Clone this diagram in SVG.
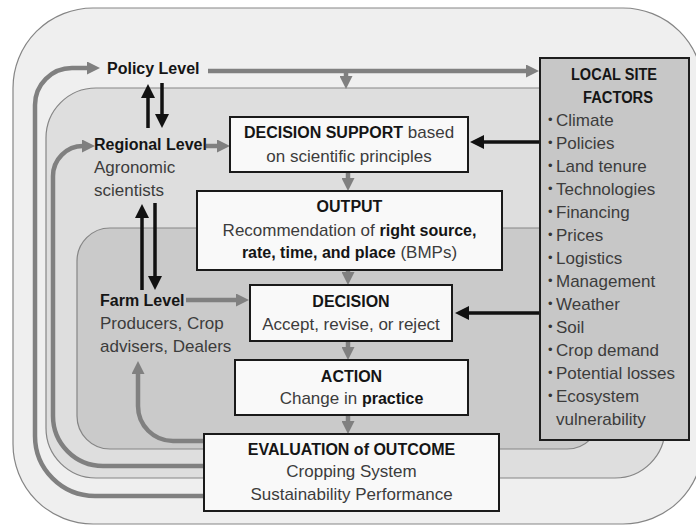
<svg xmlns="http://www.w3.org/2000/svg" width="696" height="527" viewBox="0 0 696 527">
<style>
text{font-family:"Liberation Sans",Arial,sans-serif;}
.lvl{stroke:#858585;stroke-width:1.2;}
.box{fill:#f9f9f9;stroke:#1a1a1a;stroke-width:2;}
.h{font-weight:bold;font-size:16px;fill:#151515;}
.r{font-size:17px;fill:#3c3c3c;}
.bd{font-weight:bold;font-size:16px;fill:#151515;}
.g{fill:none;stroke:#808080;stroke-width:4.5;}
.k{fill:none;stroke:#111;stroke-width:3.5;}
.c{text-anchor:middle;}
.bul{font-size:13px;fill:#333;}
</style>
<defs>
<marker id="ga" markerUnits="userSpaceOnUse" markerWidth="13" markerHeight="13" viewBox="0 0 13 13" refX="1" refY="6.5" orient="auto"><path d="M0,0 L13,6.5 L0,13 z" fill="#808080"/></marker>
<marker id="ka" markerUnits="userSpaceOnUse" markerWidth="14" markerHeight="14" viewBox="0 0 14 14" refX="1" refY="7" orient="auto"><path d="M0,0 L14,7 L0,14 z" fill="#111"/></marker>
</defs>
<rect width="696" height="527" fill="#ffffff"/>
<g id="levels">
<rect id="policy-area" class="lvl" x="13" y="8" width="690" height="516" rx="80" fill="#efefef"/>
<rect id="regional-area" class="lvl" x="46" y="88" width="619" height="390" rx="50" fill="#dedede"/>
<rect id="farm-area" class="lvl" x="77" y="228" width="523" height="221" rx="33" fill="#cacaca"/>
</g>
<g id="connectors">
<path class="g" d="M208,71 H527" marker-end="url(#ga)"/>
<path class="g" d="M346,71 V77" marker-end="url(#ga)"/>
<path class="g" d="M206,146 H218" marker-end="url(#ga)"/>
<path class="g" d="M186,300 H237" marker-end="url(#ga)"/>
<path class="g" d="M348,172 V179" marker-end="url(#ga)"/>
<path class="g" d="M348,270 V273" marker-end="url(#ga)"/>
<path class="g" d="M348,341 V348" marker-end="url(#ga)"/>
<path class="g" d="M348,415 V422" marker-end="url(#ga)"/>
<path class="g" d="M205,496 H95 A60,60 0 0 1 35,436 V105 A37,37 0 0 1 72,68 H88" marker-end="url(#ga)"/>
<path class="g" d="M205,466 H103 A50,50 0 0 1 53,416 V176 A30,30 0 0 1 83,146" stroke="#6e6e6e" marker-end="url(#ga)"/>
<path class="g" d="M205,441 H173 A35,35 0 0 1 138,406 V373" marker-end="url(#ga)"/>
<path class="k" d="M148,128 V97" marker-end="url(#ka)"/>
<path class="k" d="M162,83 V115" marker-end="url(#ka)"/>
<path class="k" d="M142,290 V217" marker-end="url(#ka)"/>
<path class="k" d="M155,203 V277" marker-end="url(#ka)"/>
<path class="k" d="M540,142 H483" marker-end="url(#ka)"/>
<path class="k" d="M540,313 H468" marker-end="url(#ka)"/>
</g>
<g id="policy-level">
<text class="h" x="107" y="74">Policy Level</text>
</g>
<g id="regional-level">
<text class="h" x="94" y="150">Regional Level</text>
<text class="r" x="94" y="173">Agronomic</text>
<text class="r" x="94" y="196">scientists</text>
</g>
<g id="farm-level">
<text class="h" x="100" y="306">Farm Level</text>
<text class="r" x="100" y="329">Producers, Crop</text>
<text class="r" x="100" y="352">advisers, Dealers</text>
</g>
<g id="decision-support">
<rect class="box" x="230" y="117" width="238" height="55"/>
<text class="c" x="349" y="138"><tspan class="bd">DECISION SUPPORT</tspan><tspan class="r"> based</tspan></text>
<text class="r c" x="349" y="162">on scientific principles</text>
</g>
<g id="output">
<rect class="box" x="197" y="191" width="305" height="79"/>
<text class="h c" x="349.5" y="212">OUTPUT</text>
<text class="c" x="349.5" y="236"><tspan class="r">Recommendation of </tspan><tspan class="bd">right source,</tspan></text>
<text class="c" x="349.5" y="258"><tspan class="bd">rate, time, and place</tspan><tspan class="r"> (BMPs)</tspan></text>
</g>
<g id="decision">
<rect class="box" x="250" y="285" width="202" height="56"/>
<text class="h c" x="351" y="307">DECISION</text>
<text class="r c" x="351" y="330">Accept, revise, or reject</text>
</g>
<g id="action">
<rect class="box" x="235" y="360" width="233" height="55"/>
<text class="h c" x="351.5" y="382">ACTION</text>
<text class="c" x="351.5" y="404"><tspan class="r">Change in </tspan><tspan class="bd">practice</tspan></text>
</g>
<g id="evaluation">
<rect class="box" x="204" y="434" width="295" height="77"/>
<text class="h c" x="351.5" y="455">EVALUATION of OUTCOME</text>
<text class="r c" x="351.5" y="477">Cropping System</text>
<text class="r c" x="351.5" y="500">Sustainability Performance</text>
</g>
<g id="local-site-factors">
<rect x="540" y="58" width="149" height="382" fill="#c7c7c7" stroke="#1e1e1e" stroke-width="2"/>
<text class="h c" x="614" y="80" textLength="86" lengthAdjust="spacingAndGlyphs">LOCAL SITE</text>
<text class="h c" x="618" y="103" textLength="70" lengthAdjust="spacingAndGlyphs">FACTORS</text>
<text y="126"><tspan class="bul" x="548" dy="-2">•</tspan><tspan class="r" x="556" dy="2">Climate</tspan></text>
<text y="149"><tspan class="bul" x="548" dy="-2">•</tspan><tspan class="r" x="556" dy="2">Policies</tspan></text>
<text y="172"><tspan class="bul" x="548" dy="-2">•</tspan><tspan class="r" x="556" dy="2">Land tenure</tspan></text>
<text y="195"><tspan class="bul" x="548" dy="-2">•</tspan><tspan class="r" x="556" dy="2">Technologies</tspan></text>
<text y="218"><tspan class="bul" x="548" dy="-2">•</tspan><tspan class="r" x="556" dy="2">Financing</tspan></text>
<text y="241"><tspan class="bul" x="548" dy="-2">•</tspan><tspan class="r" x="556" dy="2">Prices</tspan></text>
<text y="264"><tspan class="bul" x="548" dy="-2">•</tspan><tspan class="r" x="556" dy="2">Logistics</tspan></text>
<text y="287"><tspan class="bul" x="548" dy="-2">•</tspan><tspan class="r" x="556" dy="2">Management</tspan></text>
<text y="310"><tspan class="bul" x="548" dy="-2">•</tspan><tspan class="r" x="556" dy="2">Weather</tspan></text>
<text y="333"><tspan class="bul" x="548" dy="-2">•</tspan><tspan class="r" x="556" dy="2">Soil</tspan></text>
<text y="356"><tspan class="bul" x="548" dy="-2">•</tspan><tspan class="r" x="556" dy="2">Crop demand</tspan></text>
<text y="379"><tspan class="bul" x="548" dy="-2">•</tspan><tspan class="r" x="556" dy="2">Potential losses</tspan></text>
<text y="402"><tspan class="bul" x="548" dy="-2">•</tspan><tspan class="r" x="556" dy="2">Ecosystem</tspan></text>
<text class="r" x="556" y="425">vulnerability</text>
</g>
</svg>
